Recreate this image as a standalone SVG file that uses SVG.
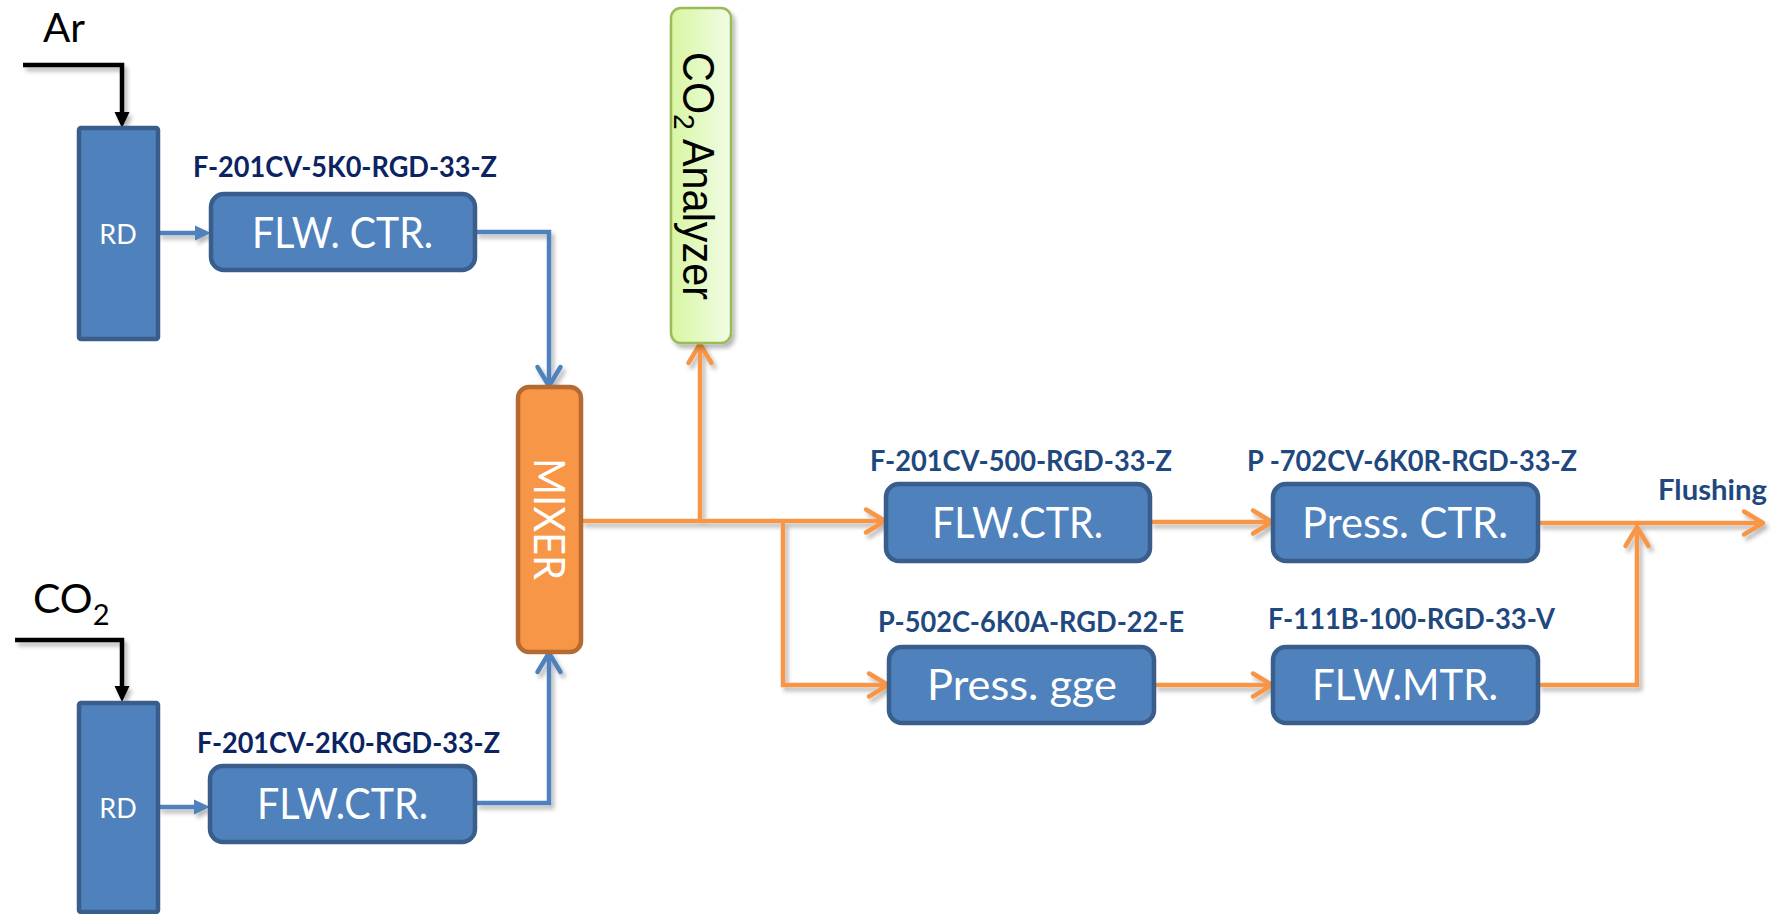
<svg xmlns="http://www.w3.org/2000/svg" width="1780" height="914" viewBox="0 0 1780 914">
  <defs>
    <style>
      .box { fill: #4F81BD; stroke: #3A5E8C; stroke-width: 4.5; }
      .boxtxt { font-family: Lato, "Liberation Sans", sans-serif; fill: #FFFFFF; font-size: 43px; }
      .rdtxt { font-family: Lato, "Liberation Sans", sans-serif; fill: #FFFFFF; font-size: 27px; }
      .lblL { font-family: Lato, "Liberation Sans", sans-serif; font-weight: bold; font-size: 28px; fill: #0B2461; }
      .lblR { font-family: Lato, "Liberation Sans", sans-serif; font-weight: bold; font-size: 28px; fill: #1F487E; }
      .gas { font-family: Lato, "Liberation Sans", sans-serif; font-size: 41px; fill: #000000; }
      .blk { fill: none; stroke: #000000; stroke-width: 4.5; }
      .blu { fill: none; stroke: #4F81BD; stroke-width: 4.5; }
      .org { fill: none; stroke: #F79646; stroke-width: 4.5; }
    </style>
    <linearGradient id="gAna" x1="0" y1="0" x2="1" y2="0">
      <stop offset="0" stop-color="#D8F6A2"/>
      <stop offset="1" stop-color="#F1FCE6"/>
    </linearGradient>
    <filter id="shd" x="-20%" y="-20%" width="140%" height="140%">
      <feDropShadow dx="3" dy="4" stdDeviation="2" flood-color="#000000" flood-opacity="0.28"/>
    </filter>
    <marker id="triK" viewBox="0 -8 16 16" refX="8" refY="0" markerWidth="16" markerHeight="16" markerUnits="userSpaceOnUse" orient="auto">
      <path d="M0,-7.5 L16,0 L0,7.5 z" fill="#000000"/>
    </marker>
    <marker id="triB" viewBox="0 -8 16 16" refX="8" refY="0" markerWidth="16" markerHeight="16" markerUnits="userSpaceOnUse" orient="auto">
      <path d="M0,-7.5 L16,0 L0,7.5 z" fill="#4F81BD"/>
    </marker>
    <marker id="chB" viewBox="-24 -15 28 30" refX="0" refY="0" markerWidth="28" markerHeight="30" markerUnits="userSpaceOnUse" orient="auto">
      <path d="M-19,-11.5 L0,0 L-19,11.5" fill="none" stroke="#4F81BD" stroke-width="4.5" stroke-linejoin="round" stroke-linecap="round"/>
    </marker>
    <marker id="chO" viewBox="-24 -15 28 30" refX="0" refY="0" markerWidth="28" markerHeight="30" markerUnits="userSpaceOnUse" orient="auto">
      <path d="M-19,-11.5 L0,0 L-19,11.5" fill="none" stroke="#F79646" stroke-width="4.5" stroke-linejoin="round" stroke-linecap="round"/>
    </marker>
  </defs>

  <rect x="0" y="0" width="1780" height="914" fill="#FFFFFF"/>

  <g id="connectors" filter="url(#shd)">
    <path class="blk" d="M23,65 H122 V120" marker-end="url(#triK)"/>
    <path class="blk" d="M15,640 H122 V694" marker-end="url(#triK)"/>
    <path class="blu" d="M158,233 H203" marker-end="url(#triB)"/>
    <path class="blu" d="M158,807 H202" marker-end="url(#triB)"/>
    <path class="blu" d="M475,232 H549 V386" marker-end="url(#chB)"/>
    <path class="blu" d="M475,803 H549 V653" marker-end="url(#chB)"/>
    <path class="org" d="M581,521 H885" marker-end="url(#chO)"/>
    <path class="org" d="M700,521 V344" marker-end="url(#chO)"/>
    <path class="org" d="M783,521 V685 H888" marker-end="url(#chO)"/>
    <path class="org" d="M1150,522 H1272" marker-end="url(#chO)"/>
    <path class="org" d="M1154,685 H1272" marker-end="url(#chO)"/>
    <path class="org" d="M1538,523 H1763" marker-end="url(#chO)"/>
    <path class="org" d="M1538,685 H1637 V527" marker-end="url(#chO)"/>
  </g>

  <g id="ar-source">
    <text class="gas" x="43" y="42" textLength="42" lengthAdjust="spacingAndGlyphs">Ar</text>
  </g>
  <g id="co2-source">
    <text class="gas" x="33" y="613">CO<tspan font-size="29" dy="12">2</tspan></text>
  </g>

  <g id="rd1">
    <rect class="box" x="79" y="128" width="79" height="211" rx="2"/>
    <text class="rdtxt" x="118" y="244" text-anchor="middle">RD</text>
  </g>
  <g id="rd2">
    <rect class="box" x="79" y="703" width="79" height="209" rx="2"/>
    <text class="rdtxt" x="118" y="818" text-anchor="middle">RD</text>
  </g>

  <g id="flw-ctr-ar">
    <text class="lblL" x="193" y="177" textLength="304" lengthAdjust="spacingAndGlyphs">F-201CV-5K0-RGD-33-Z</text>
    <rect class="box" x="211" y="194" width="264" height="76" rx="13"/>
    <text class="boxtxt" x="252" y="248" textLength="181" lengthAdjust="spacingAndGlyphs">FLW. CTR.</text>
  </g>
  <g id="flw-ctr-co2">
    <text class="lblL" x="197" y="753" textLength="303" lengthAdjust="spacingAndGlyphs">F-201CV-2K0-RGD-33-Z</text>
    <rect class="box" x="210" y="766" width="265" height="76" rx="13"/>
    <text class="boxtxt" x="257" y="819" textLength="171" lengthAdjust="spacingAndGlyphs">FLW.CTR.</text>
  </g>

  <g id="mixer">
    <rect x="518" y="387" width="63" height="265" rx="11" fill="#F79646" stroke="#B46A30" stroke-width="4.5"/>
    <text transform="translate(549,519) rotate(90)" x="0" y="15" text-anchor="middle" font-family="Lato, 'Liberation Sans', sans-serif" font-size="42" fill="#FFFFFF" textLength="122" lengthAdjust="spacingAndGlyphs">MIXER</text>
  </g>

  <g id="co2-analyzer">
    <rect x="671" y="8" width="60" height="335" rx="10" fill="url(#gAna)" stroke="#9BBB59" stroke-width="2.5" filter="url(#shd)"/>
    <text transform="translate(699,176) rotate(90)" x="0" y="16" text-anchor="middle" font-family="'Liberation Sans', Arial, sans-serif" font-size="44" fill="#000000" textLength="248" lengthAdjust="spacingAndGlyphs">CO<tspan font-size="30" dy="9">2</tspan><tspan dy="-9"> Analyzer</tspan></text>
  </g>

  <g id="flw-ctr-main">
    <text class="lblR" x="870" y="471" textLength="302" lengthAdjust="spacingAndGlyphs">F-201CV-500-RGD-33-Z</text>
    <rect class="box" x="886" y="484" width="264" height="77" rx="13"/>
    <text class="boxtxt" x="932" y="538" textLength="171" lengthAdjust="spacingAndGlyphs">FLW.CTR.</text>
  </g>
  <g id="press-ctr">
    <text class="lblR" x="1247" y="471" textLength="330" lengthAdjust="spacingAndGlyphs">P -702CV-6K0R-RGD-33-Z</text>
    <rect class="box" x="1273" y="484" width="265" height="77" rx="13"/>
    <text class="boxtxt" x="1302" y="538" textLength="206" lengthAdjust="spacingAndGlyphs">Press. CTR.</text>
  </g>
  <g id="press-gge">
    <text class="lblR" x="878" y="632" textLength="306" lengthAdjust="spacingAndGlyphs">P-502C-6K0A-RGD-22-E</text>
    <rect class="box" x="889" y="647" width="265" height="76" rx="13"/>
    <text class="boxtxt" x="927" y="700" textLength="190" lengthAdjust="spacingAndGlyphs">Press. gge</text>
  </g>
  <g id="flw-mtr">
    <text class="lblR" x="1268" y="629" textLength="287" lengthAdjust="spacingAndGlyphs">F-111B-100-RGD-33-V</text>
    <rect class="box" x="1273" y="647" width="265" height="76" rx="13"/>
    <text class="boxtxt" x="1312" y="700" textLength="186" lengthAdjust="spacingAndGlyphs">FLW.MTR.</text>
  </g>

  <g id="flushing">
    <text class="lblR" x="1658" y="500" textLength="109" lengthAdjust="spacingAndGlyphs">Flushing</text>
  </g>
</svg>
